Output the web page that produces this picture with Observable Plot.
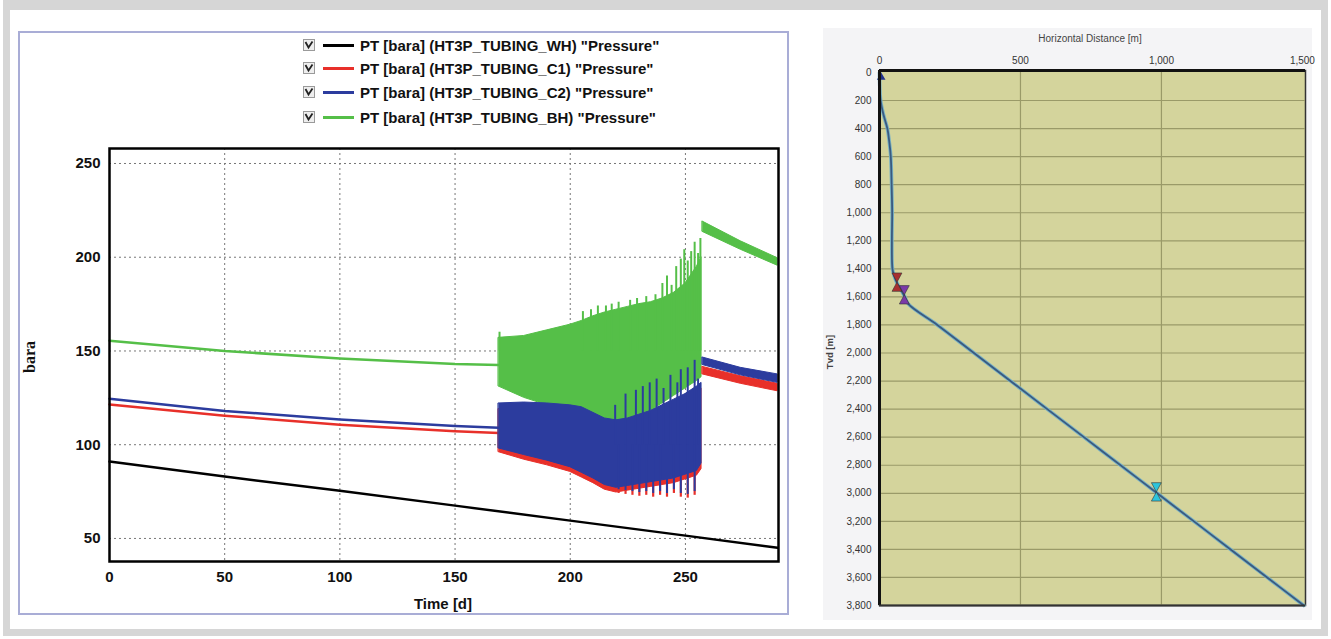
<!DOCTYPE html>
<html><head><meta charset="utf-8">
<script src="https://cdn.jsdelivr.net/npm/d3@7"></script>
<script src="https://cdn.jsdelivr.net/npm/@observablehq/plot@0.6"></script>
<style>
body{margin:0;width:1331px;height:639px;position:relative;background:#fff;overflow:hidden;font-family:"Liberation Sans",Arial,sans-serif;}
.abs{position:absolute;}
#frame{left:3px;top:0;width:1325px;height:636px;border:7px solid #d6d6d6;border-top-width:10px;box-sizing:border-box;}
#leftbox{left:18px;top:31px;width:771px;height:584px;border:2px solid #a9add6;box-sizing:border-box;}
#rightbg{left:823px;top:28px;width:489px;height:592px;background:#f4f4f6;}
.legrow{position:absolute;left:303px;height:20px;display:flex;align-items:center;font-weight:bold;font-size:15px;color:#111;white-space:nowrap;}
.sw{display:inline-block;width:31px;height:3px;margin:0 6px 0 8px;}
.rot{transform:translate(-50%,-50%) rotate(-90deg);white-space:nowrap;}
.ctr{transform:translate(-50%,-50%);white-space:nowrap;}
</style></head>
<body>
<div id="frame" class="abs"></div>
<div id="leftbox" class="abs"></div>
<div id="rightbg" class="abs"></div>
<div id="legend"></div>
<div id="leftplot" class="abs" style="left:20px;top:135px;"></div>
<div id="rightplot" class="abs" style="left:823px;top:28px;"></div>
<div class="abs ctr" style="left:443px;top:603px;font-weight:bold;font-size:15px;color:#111;">Time [d]</div>
<div class="abs rot" style="left:30px;top:357px;font-family:'Liberation Serif',serif;font-weight:bold;font-size:16px;color:#111;">bara</div>
<div class="abs ctr" style="left:1090px;top:38px;font-size:10px;color:#444;">Horizontal Distance [m]</div>
<div class="abs rot" style="left:829px;top:352px;font-size:9.5px;font-weight:bold;color:#444;">Tvd [m]</div>
<script>
// ---------- Left chart data ----------
const legendLabels = ['PT [bara] (HT3P_TUBING_WH) "Pressure"','PT [bara] (HT3P_TUBING_C1) "Pressure"','PT [bara] (HT3P_TUBING_C2) "Pressure"','PT [bara] (HT3P_TUBING_BH) "Pressure"'];
const seriesColors = ["#000000", "#e8302a", "#2c3c9e", "#55bf48"];
const xTicks = [0, 50, 100, 150, 200, 250];
const yTicks = [50, 100, 150, 200, 250];

// WH: smooth decline over full period
const whT = [0, 50, 100, 150, 200, 250, 290];
const whP = [91, 83, 75.5, 67.5, 59.5, 51.5, 45];
// steady period
const tSteady = [0, 50, 100, 150, 169];
const c1Steady = [121.5, 115.5, 110.7, 107.2, 106.3];
const c2Steady = [124.5, 118, 113.5, 110, 109];
const bhSteady = [155.5, 150, 146, 143, 142.5];
// oscillating period: band envelopes
const tOsc = [169, 180, 190, 200, 205, 210, 215, 220, 225, 230, 235, 240, 245, 250, 255, 257];
const bhHi = [157, 158, 161, 164, 166, 168.5, 170.5, 172, 173.5, 175, 176, 178, 181, 186, 195, 200];
const bhLo = [131, 125, 121, 117.5, 115, 112.5, 110.5, 110, 111.5, 115, 118, 122, 126, 130, 134, 136];
const c2Hi = [122, 122.5, 122, 121, 120, 117, 114, 113, 114, 116, 118, 121, 124, 127, 131, 133];
const c2Lo = [98, 94.5, 91.5, 88, 85, 82, 78.5, 77, 78, 79, 80, 81, 82, 84, 86, 90];
const c1Hi = [119, 119.5, 119, 118, 117, 114, 111, 110, 111, 113, 115, 118, 121, 124, 128, 130];
const c1Lo = [96, 92, 89, 85.5, 82.5, 79.5, 76, 74.5, 75.5, 76.5, 77.5, 78.5, 79.5, 81.5, 83.5, 87];
// oscillating period: individual spikes
const bhSpikeT = [169.3, 205.5, 209, 212, 215.5, 218, 221, 226, 229, 233, 237, 240, 242, 244, 246, 248, 249.5, 251, 252.5, 254, 255.5, 256.5];
const bhSpikeTop = [160, 171, 172, 174, 174, 175, 176, 177, 178, 179, 180, 186, 190, 185, 195, 199, 204, 198, 203, 208, 202, 210];
const c2UpT = [219.5, 224, 228.5, 231.5, 234.5, 237.5, 240.5, 243.5, 246.5, 248, 251, 254, 255.5];
const c2UpTop = [121, 127, 129, 131, 133, 135, 130, 137, 133, 140, 141, 145, 135];
const downT = [221, 224, 227, 230, 233, 236, 239, 242, 245, 248, 251, 254];
const c2DownBottom = [76, 75.5, 75, 74.5, 75, 74, 75, 74, 76, 74, 73.5, 75];
const c1DownBottom = [74, 73.5, 73, 72.5, 73, 72, 73, 72, 74, 72, 71.5, 73];
// after the jump
const tLate = [257.5, 274, 290];
const bhLateHi = [219, 208.5, 199.5];
const bhLateLo = [213.5, 204, 195.5];
const c2LateHi = [146.5, 141, 137.5];
const c2LateLo = [142.5, 137, 133];
const c1LateHi = [141.5, 136.5, 132.5];
const c1LateLo = [137.5, 132.5, 128.5];

// ---------- Right chart data ----------
const hTicks = [0, 500, 1000, 1500];
const dTicks = d3.range(0, 3801, 200);
const trajD = [0, 100, 200, 300, 400, 500, 600, 800, 1000, 1200, 1400, 1450, 1500, 1550, 1600, 1650, 1800, 2000, 2400, 2700, 3000, 3300, 3600, 3800];
const trajH = [0, 1, 4, 14, 28, 35, 40, 43, 45, 44, 46, 52, 62, 76, 90, 102, 205, 335, 595, 790, 985, 1180, 1375, 1505];
const markerH = [62, 88, 982];
const markerD = [1495, 1585, 2990];
const markerColors = ["#a83030", "#7a3aa8", "#2cc4dc"];

// ---------- Legend ----------
const legend = document.getElementById("legend");
const legendTops = [35, 58, 82, 107];
legendLabels.forEach((lab, i) => {
  const row = document.createElement("div");
  row.className = "legrow";
  row.style.top = legendTops[i] + "px";
  row.innerHTML = `<svg width="12" height="12" style="display:block"><rect x="0.5" y="0.5" width="11" height="11" fill="#eee" stroke="#9a9a9a"/><path d="M2.5 3 L5.5 8.5 L9.5 2.5" fill="none" stroke="#222" stroke-width="1.8"/></svg><span class="sw" style="background:${seriesColors[i]}"></span><span></span>`;
  row.lastChild.textContent = lab;
  legend.appendChild(row);
});

// ---------- Build tables ----------
const steady = tSteady.map((t, i) => ({t, c1: c1Steady[i], c2: c2Steady[i], bh: bhSteady[i]}));
const wh = whT.map((t, i) => ({t, p: whP[i]}));
const osc = tOsc.map((t, i) => ({t, bhHi: bhHi[i], bhLo: bhLo[i], c2Hi: c2Hi[i], c2Lo: c2Lo[i], c1Hi: c1Hi[i], c1Lo: c1Lo[i]}));
const late = tLate.map((t, i) => ({t, bhHi: bhLateHi[i], bhLo: bhLateLo[i], c2Hi: c2LateHi[i], c2Lo: c2LateLo[i], c1Hi: c1LateHi[i], c1Lo: c1LateLo[i]}));
const bhSpikes = bhSpikeT.map((t, i) => ({t, top: bhSpikeTop[i]}));
const c2Up = c2UpT.map((t, i) => ({t, top: c2UpTop[i]}));
const c2Down = downT.map((t, i) => ({t, bottom: c2DownBottom[i]}));
const c1Down = downT.map((t, i) => ({t, bottom: c1DownBottom[i]}));

const [cWH, cC1, cC2, cBH] = seriesColors;

const left = Plot.plot({
  width: 770, height: 480,
  marginLeft: 89, marginRight: 12, marginTop: 13, marginBottom: 54,
  style: {background: "transparent", fontFamily: "'Liberation Sans', Arial, sans-serif", fontSize: "15px", fontWeight: "bold", color: "#111"},
  x: {domain: [0, 290.4], ticks: xTicks, tickSize: 0, tickPadding: 10, label: null},
  y: {domain: [37.7, 258], ticks: yTicks, tickSize: 0, tickPadding: 9, label: null},
  marks: [
    Plot.gridX(xTicks, {stroke: "#777", strokeOpacity: 1, strokeDasharray: "2,3"}),
    Plot.gridY(yTicks, {stroke: "#777", strokeOpacity: 1, strokeDasharray: "2,3"}),
    // BH
    Plot.line(steady, {x: "t", y: "bh", stroke: cBH, strokeWidth: 2.5}),
    Plot.areaY(osc, {x: "t", y1: "bhLo", y2: "bhHi", fill: cBH, stroke: cBH, strokeWidth: 1}),
    Plot.ruleX(bhSpikes, {x: "t", y1: 150, y2: "top", stroke: cBH, strokeWidth: 2}),
    Plot.areaY(late, {x: "t", y1: "bhLo", y2: "bhHi", fill: cBH, stroke: cBH, strokeWidth: 1}),
    // C1
    Plot.line(steady, {x: "t", y: "c1", stroke: cC1, strokeWidth: 2.5}),
    Plot.areaY(osc, {x: "t", y1: "c1Lo", y2: "c1Hi", fill: cC1, stroke: cC1, strokeWidth: 1}),
    Plot.ruleX(c1Down, {x: "t", y1: 100, y2: "bottom", stroke: cC1, strokeWidth: 2.2}),
    Plot.areaY(late, {x: "t", y1: "c1Lo", y2: "c1Hi", fill: cC1, stroke: cC1, strokeWidth: 1}),
    // C2
    Plot.line(steady, {x: "t", y: "c2", stroke: cC2, strokeWidth: 2.5}),
    Plot.areaY(osc, {x: "t", y1: "c2Lo", y2: "c2Hi", fill: cC2, stroke: cC2, strokeWidth: 1}),
    Plot.ruleX(c2Up, {x: "t", y1: 100, y2: "top", stroke: cC2, strokeWidth: 2}),
    Plot.ruleX(c2Down, {x: "t", y1: 100, y2: "bottom", stroke: cC2, strokeWidth: 2}),
    Plot.areaY(late, {x: "t", y1: "c2Lo", y2: "c2Hi", fill: cC2, stroke: cC2, strokeWidth: 1}),
    // WH
    Plot.line(wh, {x: "t", y: "p", stroke: cWH, strokeWidth: 2.5}),
    Plot.frame({stroke: "#000", strokeWidth: 2.5})
  ]
});
document.getElementById("leftplot").appendChild(left);

// ---------- Right chart ----------
const traj = trajD.map((d, i) => ({d, h: trajH[i]}));
const markers = markerD.map((d, i) => ({d, h: markerH[i], c: markerColors[i]}));
const hourglass = {
  draw(ctx, size) {
    const r = Math.sqrt(size / Math.PI);
    const w = r * 0.62, h = r * 1.15;
    ctx.moveTo(-w, -h); ctx.lineTo(w, -h); ctx.lineTo(0, 0); ctx.closePath();
    ctx.moveTo(-w, h); ctx.lineTo(w, h); ctx.lineTo(0, 0); ctx.closePath();
  }
};
const fmt = d3.format(",");
const right = Plot.plot({
  width: 494, height: 592,
  marginLeft: 56, marginRight: 12, marginTop: 42, marginBottom: 15,
  style: {background: "transparent", fontFamily: "'Liberation Sans', Arial, sans-serif", fontSize: "10px", color: "#333"},
  x: {domain: [0, 1511], axis: "top", ticks: hTicks, tickFormat: fmt, tickSize: 0, tickPadding: 7, label: null},
  y: {domain: [-14, 3800], reverse: true, ticks: dTicks, tickFormat: fmt, tickSize: 0, tickPadding: 8, label: null},
  marks: [
    Plot.frame({fill: "#d4d49c", stroke: "#333", strokeWidth: 1.5}),
    Plot.gridX(hTicks.slice(1, 3), {stroke: "#9a9a68", strokeOpacity: 1, strokeWidth: 1.2}),
    Plot.gridY(dTicks.slice(1, -1), {stroke: "#9a9a68", strokeOpacity: 1, strokeWidth: 1.2}),
    Plot.line(traj, {x: "h", y: "d", stroke: "#78b2c4", strokeWidth: 3.6, curve: "catmull-rom"}),
    Plot.line(traj, {x: "h", y: "d", stroke: "#3a5a80", strokeWidth: 1.8, curve: "catmull-rom"}),
    Plot.dot(markers, {x: "h", y: "d", symbol: hourglass, r: 8, fill: "c", stroke: "#333", strokeWidth: 0.6}),
    Plot.dot([{h: 6, d: 35}], {x: "h", y: "d", symbol: "triangle", r: 3.2, fill: "#20308a"}),
    Plot.ruleX([0], {stroke: "#111", strokeWidth: 3}),
    Plot.ruleY([-14], {stroke: "#111", strokeWidth: 3}),
    Plot.ruleY([3800], {stroke: "#333", strokeWidth: 2})
  ]
});
document.getElementById("rightplot").appendChild(right);
</script>
</body></html>
